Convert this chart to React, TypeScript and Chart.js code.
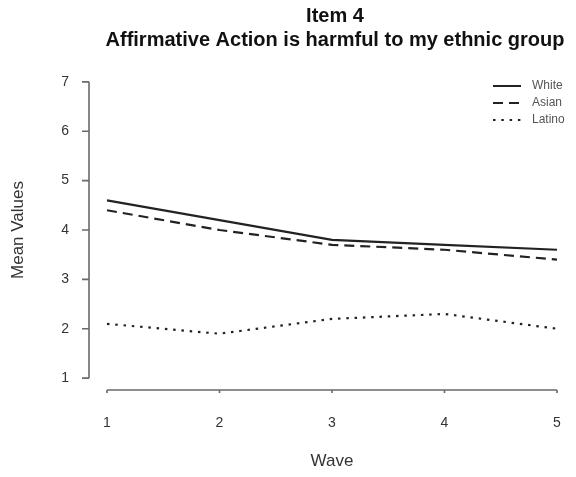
import React, { useEffect, useRef } from "react";
import { Chart, registerables } from "chart.js";

Chart.register(...registerables);

const waves = [1, 2, 3, 4, 5];
const yTicks = [1, 2, 3, 4, 5, 6, 7];
const white = [4.6, 4.2, 3.8, 3.7, 3.6];
const asian = [4.4, 4.0, 3.7, 3.6, 3.4];
const latino = [2.1, 1.9, 2.2, 2.3, 2.0];
const titleLines = ["Item 4", "Affirmative Action is harmful to my ethnic group"];
const xTitle = "Wave";
const yTitle = "Mean Values";

const FONT = "'Liberation Sans', Arial, Helvetica, sans-serif";

const rAxesPlugin = {
  id: "rAxes",
  afterDraw(chart: any) {
    const { ctx, chartArea, scales } = chart;
    const xs = scales.x;
    const ys = scales.y;
    ctx.save();
    ctx.strokeStyle = "#6a6a6a";
    ctx.lineWidth = 1.6;
    // y axis
    const yTop = ys.getPixelForValue(yTicks[yTicks.length - 1]);
    const yBot = ys.getPixelForValue(yTicks[0]);
    const ax = chartArea.left;
    ctx.beginPath();
    ctx.moveTo(ax, yTop);
    ctx.lineTo(ax, yBot);
    yTicks.forEach((v) => {
      const p = ys.getPixelForValue(v);
      ctx.moveTo(ax - 7, p);
      ctx.lineTo(ax, p);
    });
    ctx.stroke();
    // x axis
    const xL = xs.getPixelForValue(waves[0]);
    const xR = xs.getPixelForValue(waves[waves.length - 1]);
    const ay = chartArea.bottom;
    ctx.beginPath();
    ctx.moveTo(xL, ay);
    ctx.lineTo(xR, ay);
    waves.forEach((v) => {
      const p = xs.getPixelForValue(v);
      ctx.moveTo(p, ay);
      ctx.lineTo(p, ay + 3);
    });
    ctx.stroke();

    // title
    const cx = (xL + xR) / 2 + 3;
    ctx.fillStyle = "#111";
    ctx.font = `bold 20px ${FONT}`;
    ctx.textAlign = "center";
    ctx.textBaseline = "middle";
    ctx.fillText(titleLines[0], cx, 16);
    ctx.fillText(titleLines[1], cx, 40);

    // legend
    ctx.font = `12px ${FONT}`;
    ctx.textAlign = "left";
    chart.data.datasets.forEach((ds: any, i: number) => {
      const y = 86 + i * 17;
      ctx.strokeStyle = "#222";
      ctx.lineWidth = 2;
      ctx.setLineDash(ds.borderDash || []);
      ctx.beginPath();
      ctx.moveTo(493, y);
      ctx.lineTo(521, y);
      ctx.stroke();
      ctx.setLineDash([]);
      ctx.fillStyle = "#555";
      ctx.fillText(ds.label, 532, y);
    });
    ctx.restore();
  },
};

export default function App() {
  const ref = useRef<HTMLCanvasElement>(null);
  useEffect(() => {
    if (!ref.current) return;
    const mk = (label: string, data: number[], dash: number[]) => ({
      label,
      data: data.map((v, i) => ({ x: waves[i], y: v })),
      borderColor: "#222",
      borderWidth: 2.2,
      borderDash: dash,
      pointRadius: 0,
      fill: false,
      tension: 0,
    });
    const chart = new Chart(ref.current, {
      type: "line",
      data: {
        datasets: [
          mk("White", white, []),
          mk("Asian", asian, [10, 6]),
          mk("Latino", latino, [2.5, 5.8]),
        ],
      },
      options: {
        animation: false,
        responsive: false,
        layout: { padding: { top: 70, right: 1, left: 0, bottom: 0 } },
        plugins: { legend: { display: false }, title: { display: false }, tooltip: { enabled: false } },
        scales: {
          x: {
            type: "linear",
            min: 0.84,
            max: 5.16,
            afterBuildTicks: (s: any) => {
              s.ticks = waves.map((v) => ({ value: v }));
            },
            afterFit: (s: any) => {
              s.height = 87;
            },
            grid: { display: false, drawTicks: true, tickLength: 22 },
            border: { display: false },
            ticks: { padding: 3, color: "#333", font: { size: 14, family: FONT }, maxRotation: 0, callback: (v: any) => String(v) },
            title: { display: true, text: xTitle, color: "#333", font: { size: 17, family: FONT }, padding: { top: 0, bottom: 5 } },
          },
          y: {
            type: "linear",
            min: 0.76,
            max: 7.24,
            afterBuildTicks: (s: any) => {
              s.ticks = yTicks.map((v) => ({ value: v }));
            },
            afterFit: (s: any) => {
              s.width = 89;
            },
            grid: { display: false, drawTicks: true, tickLength: 17 },
            border: { display: false },
            ticks: { padding: 3, color: "#333", font: { size: 14, family: FONT }, callback: (v: any) => String(v) },
            title: { display: true, text: yTitle, color: "#333", font: { size: 17, family: FONT }, padding: { top: 8, bottom: 0 } },
          },
        },
      },
      plugins: [rAxesPlugin],
    });
    return () => chart.destroy();
  }, []);
  return (
    <div style={{ position: "fixed", left: 0, top: 0, width: 576, height: 477, background: "#fff" }}>
      <canvas ref={ref} width={576} height={477} />
    </div>
  );
}
